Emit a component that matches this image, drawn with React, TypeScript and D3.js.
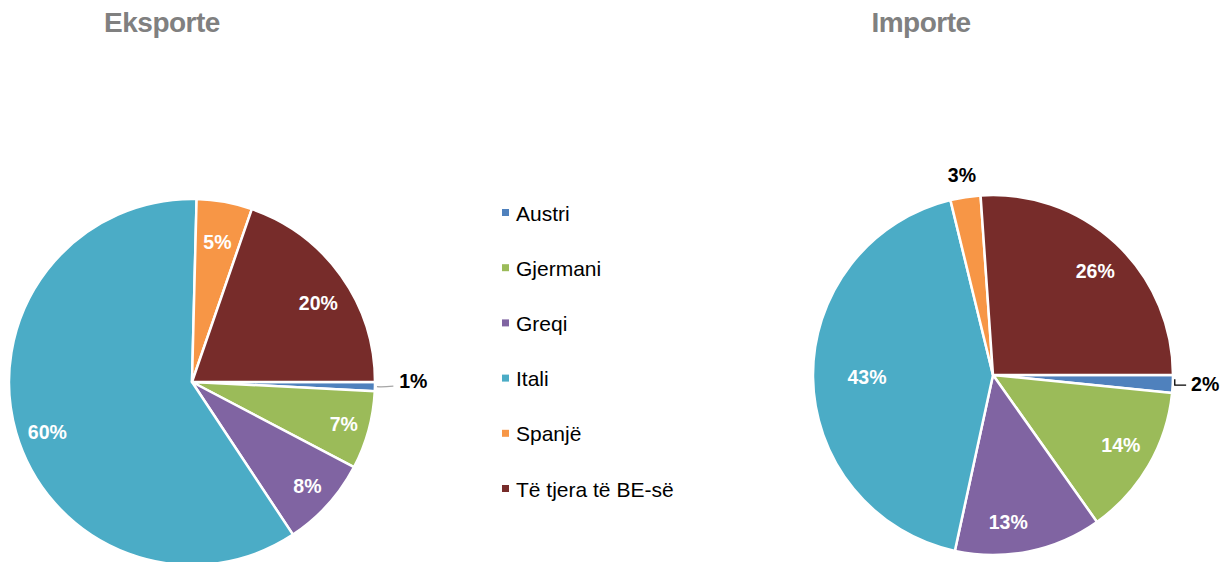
import React from "react";
import * as d3 from "d3";

const categories = ["Austri", "Gjermani", "Greqi", "Itali", "Spanjë", "Të tjera të BE-së"];
const colors = ["#4F81BD", "#9BBB59", "#8064A2", "#4BACC6", "#F79646", "#772C2A"];
const exportValues = [0.8, 6.9, 8.0, 59.7, 4.9, 19.7];
const importValues = [1.6, 13.6, 13.2, 42.8, 2.7, 26.1];
const exportLabels = ["1%", "7%", "8%", "60%", "5%", "20%"];
const importLabels = ["2%", "14%", "13%", "43%", "3%", "26%"];

// layout
const exportLayout = {
  cx: 192, cy: 382, r: 183, titleX: 162,
  labelR: [1.21, 0.86, 0.85, 0.836, 0.78, 0.814],
  labelRot: [0, 0, 0, -3, 0, 3.5],
  labelDy: [-7, 0, 0, 0, 0, 0],
  outside: [true, false, false, false, false, false], leader: "gray",
};
const importLayout = {
  cx: 993, cy: 375, r: 180, titleX: 921,
  labelR: [1.18, 0.81, 0.82, 0.70, 1.125, 0.81],
  labelRot: [0, -1.5, 5.6, 0, 0, 1.5],
  labelDy: [-2, 0, 0, 0, 0, 0],
  outside: [true, false, false, false, true, false], leader: "black",
};

const font = "Liberation Sans, Arial, sans-serif";

function Pie({ values, labels, layout, title }: any) {
  const pie = d3.pie<number>().sort(null).startAngle(Math.PI / 2).endAngle(Math.PI / 2 + 2 * Math.PI);
  const arcs = pie(values);
  const arc = d3.arc<d3.PieArcDatum<number>>().innerRadius(0).outerRadius(layout.r);
  const { cx, cy, r } = layout;
  return (
    <g>
      <text x={layout.titleX} y={32} textAnchor="middle" fontFamily={font} fontWeight="bold" fontSize={28} letterSpacing={-0.5} fill="#808080">{title}</text>
      <g transform={`translate(${cx},${cy})`}>
        {arcs.map((a, i) => (
          <path key={i} d={arc(a) || ""} fill={colors[i]} stroke="#fff" strokeWidth={2.5} strokeLinejoin="round" />
        ))}
        {arcs.map((a, i) => {
          const mid0 = (a.startAngle + a.endAngle) / 2;
          const mid = mid0 + (layout.labelRot[i] * Math.PI) / 180;
          const lr = r * layout.labelR[i];
          const x = Math.sin(mid) * lr;
          const y = -Math.cos(mid) * lr + layout.labelDy[i];
          const out = layout.outside[i];
          let leader = null;
          if (out && i === 0) {
            const sx = Math.sin(mid0) * (r + 2);
            const sy = -Math.cos(mid0) * (r + 2);
            if (layout.leader === "gray") {
              leader = <path d={`M${sx},${sy} Q${sx + 5},${sy + 0.5} ${x - 20},${sy - 0.5}`} fill="none" stroke="#A6A6A6" strokeWidth={1.3} />;
            } else {
              leader = <path d={`M${sx},${sy - 5} L${sx},${sy + 1} L${x - 19},${sy + 1}`} fill="none" stroke="#000" strokeWidth={1.3} />;
            }
          }
          return (
            <g key={i}>
              {leader}
              <text x={x} y={y} dy="0.36em" textAnchor="middle" fontFamily={font} fontWeight="bold" fontSize={19.5} fill={out ? "#000" : "#fff"}>{labels[i]}</text>
            </g>
          );
        })}
      </g>
    </g>
  );
}

export default function App() {
  return (
    <svg width={1225} height={562} style={{ position: "absolute", left: 0, top: 0, background: "#fff" }}>
      <rect width={1225} height={562} fill="#fff" />
      <Pie values={exportValues} labels={exportLabels} layout={exportLayout} title="Eksporte" />
      <Pie values={importValues} labels={importLabels} layout={importLayout} title="Importe" />
      <g>
        {categories.map((c, i) => {
          const y = 213 + i * 55.2;
          return (
            <g key={c}>
              <rect x={502} y={y - 4} width={7} height={7} fill={colors[i]} />
              <text x={516} y={y} dy="0.36em" fontFamily={font} fontSize={21} fill="#000">{c}</text>
            </g>
          );
        })}
      </g>
    </svg>
  );
}
